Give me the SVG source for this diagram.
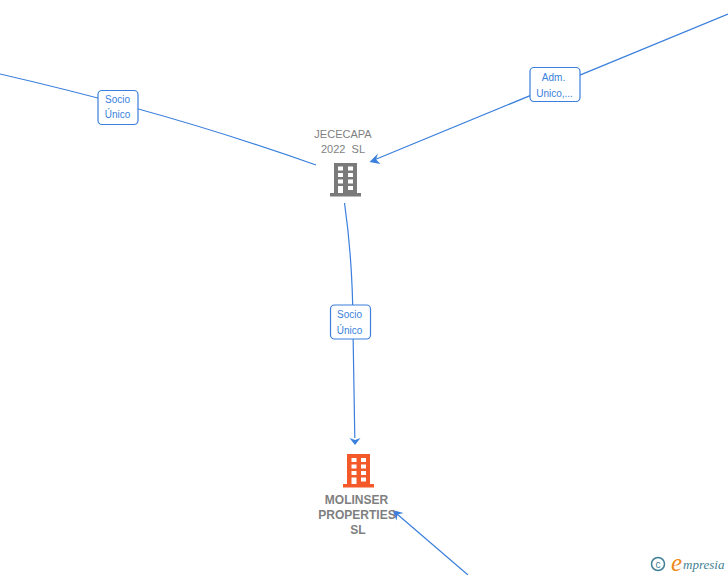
<svg xmlns="http://www.w3.org/2000/svg" width="728" height="575" viewBox="0 0 728 575">
<style>
.edge{fill:none;stroke:#3a7fdc;stroke-width:1.2}
.head{fill:#3a7fdc}
.box{fill:#fff;stroke:#3a7fdc;stroke-width:1.2}
.lbl{font-family:"Liberation Sans",Arial,sans-serif;font-size:10px;fill:#3a7fdc;text-anchor:middle}
.name{font-family:"Liberation Sans",Arial,sans-serif;font-size:11px;fill:#7f7f7f;text-anchor:middle}
.bold{font-weight:bold;font-size:12px}
.win{fill:#fff}
</style>
<rect width="728" height="575" fill="#fff"/>
<g id="connectors">
<path class="edge" d="M0 74 Q170 113 316 165"/>
<path class="edge" d="M728 14 L374 160"/>
<path class="head" d="M369.500 162 L378 153.500 L376 159.500 L380.500 164Z"/>
<path class="edge" d="M344.500 203 Q353 262 353 330 L354.800 438"/>
<path class="head" d="M349.500 438 L355 440 L360.500 438 L355 445Z"/>
<path class="edge" d="M468 575 L397 514"/>
<path class="head" d="M392.500 510 L403.500 513 L397.500 514.500 L396.500 520.500Z"/>
</g>
<g id="edge-label-1"><rect class="box" x="98" y="90.500" width="40" height="34" rx="4"/><text class="lbl" x="117.500" y="103">Socio</text><text class="lbl" x="117.500" y="118">Único</text></g>
<g id="edge-label-2"><rect class="box" x="530" y="67.500" width="50" height="34" rx="4"/><text class="lbl" x="553.500" y="81">Adm.</text><text class="lbl" x="554.500" y="96.500">Unico,...</text></g>
<g id="edge-label-3"><rect class="box" x="330.500" y="305" width="40" height="34" rx="4"/><text class="lbl" x="349.500" y="318">Socio</text><text class="lbl" x="349.500" y="333.500">Único</text></g>
<g id="node-jececapa">
<text class="name" x="343" y="138">JECECAPA</text>
<text class="name" x="343" y="153" xml:space="preserve">2022  SL</text>
<path fill="#7a7a7a" d="M334 163H357V193H361V196.500H330V193H334Z"/>
<g class="win"><rect x="338" y="166.500" width="5" height="4"/><rect x="348" y="166.500" width="5" height="4"/><rect x="338" y="173" width="5" height="4"/><rect x="348" y="173" width="5" height="4"/><rect x="338" y="179.500" width="5" height="4"/><rect x="348" y="179.500" width="5" height="4"/><rect x="338" y="186" width="5" height="7"/><rect x="348" y="186" width="5" height="4"/></g>
</g>
<g id="node-molinser">
<text class="name bold" x="356.500" y="504">MOLINSER</text>
<text class="name bold" x="357" y="519">PROPERTIES</text>
<text class="name bold" x="358" y="534">SL</text>
<path fill="#f4592a" d="M347 454H370V484H374V487.500H343V484H347Z"/>
<g class="win"><rect x="351.500" y="458" width="5" height="4"/><rect x="361" y="458" width="5" height="4"/><rect x="351.500" y="464.500" width="5" height="4"/><rect x="361" y="464.500" width="5" height="4"/><rect x="351.500" y="471" width="5" height="4"/><rect x="361" y="471" width="5" height="4"/><rect x="351.500" y="477.500" width="5" height="6.500"/><rect x="361" y="477.500" width="5" height="4"/></g>
</g>
<g id="logo">
<circle cx="658" cy="564" r="6.500" fill="none" stroke="#3f7f95" stroke-width="1.500"/>
<text x="658" y="567.500" font-family="Liberation Sans,sans-serif" font-size="10" fill="#3f7f95" text-anchor="middle">c</text>
<text x="671" y="571" font-family="Liberation Serif,serif" font-style="italic" font-size="25" fill="#f08a1c">e</text>
<text x="683" y="569" font-family="Liberation Serif,serif" font-style="italic" font-size="13" fill="#3f7f95">mpresia</text>
</g>
</svg>
